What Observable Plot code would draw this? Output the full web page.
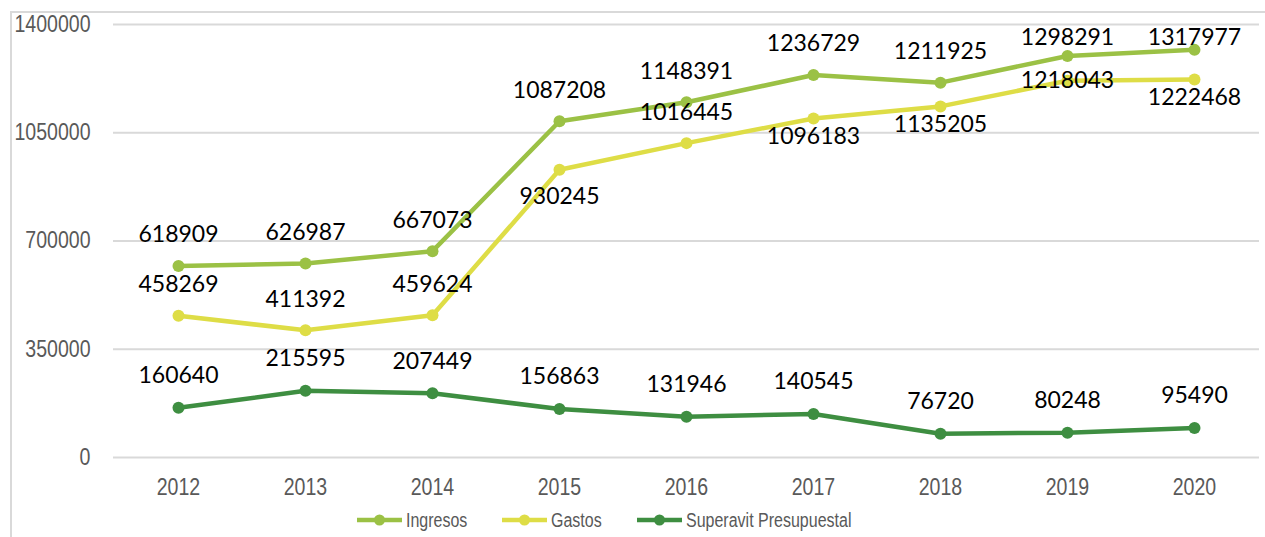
<!DOCTYPE html>
<html><head><meta charset="utf-8">
<script src="https://cdn.jsdelivr.net/npm/d3@7"></script>
<script src="https://cdn.jsdelivr.net/npm/@observablehq/plot@0.6"></script>
<style>
body{margin:0;background:#fff;width:1265px;height:537px;overflow:hidden;position:relative}
#chart{position:absolute;left:0;top:0}
#frame{position:absolute;left:10px;top:11px;right:0;bottom:0;border-left:2px solid #d9d9d9;border-top:2px solid #d9d9d9;pointer-events:none}
#legend{position:absolute;left:0;top:500px;height:37px;width:1265px;font-family:"Liberation Sans",Arial,sans-serif;font-size:20px;color:#595959}
.item{position:absolute;top:9px;height:22px;display:flex;align-items:center;white-space:nowrap}
.item svg{margin-right:4px;flex:none}
.item span{display:inline-block;transform:scaleX(0.8);transform-origin:left center}
</style></head><body>
<div id="chart"></div><div id="frame"></div><div id="legend"></div>
<script>
// ---- data ----
const years = ["2012","2013","2014","2015","2016","2017","2018","2019","2020"];
const ingresos = [618909,626987,667073,1087208,1148391,1236729,1211925,1298291,1317977];
const gastos = [458269,411392,459624,930245,1016445,1096183,1135205,1218043,1222468];
const superavit = [160640,215595,207449,156863,131946,140545,76720,80248,95490];
const seriesNames = ["Ingresos","Gastos","Superavit Presupuestal"];
const seriesColors = ["#9bc145","#dedd46","#3e8e41"];
const yTicks = [0,350000,700000,1050000,1400000];
// label placement for Gastos series (Excel-like)
const gastosPlacement = ["above","above","above","belowFar","above","below","below","center","below"];

// ---- layout ----
const W = 1265, H = 500;
const M = {left:113, right:6, top:24, bottom:43};
const yPix = d3.scaleLinear([0,1400000],[H-M.bottom, M.top]);
const dyFor = {above:-31, below:18, belowFar:27, center:0};

const seriesValues = [ingresos, gastos, superavit];
const rows = [];
seriesValues.forEach((vals,si)=>{
  vals.forEach((v,i)=>rows.push({serie:seriesNames[si], year:years[i], value:v, si, i}));
});
const labelRows = rows.map(r=>{
  let dy;
  if (r.si===1) dy = dyFor[gastosPlacement[r.i]];
  else dy = r.si===2 ? -32 : -31;
  // keep labels inside the plot top (Excel behaviour)
  const py = yPix(r.value);
  if (py + dy < 37) dy = Math.round(37 - py);
  return {...r, dy};
});
const dyGroups = d3.group(labelRows, d=>d.dy);

const marks = [
  Plot.ruleY(yTicks, {stroke:"#d9d9d9", strokeWidth:2}),
];
seriesNames.forEach((s,si)=>{
  const data = rows.filter(r=>r.si===si);
  marks.push(Plot.line(data,{x:"year", y:"value", stroke:seriesColors[si], strokeWidth:4.5, curve:"linear"}));
  marks.push(Plot.dot(data,{x:"year", y:"value", fill:seriesColors[si], r:6}));
});
for (const [dy, data] of dyGroups) {
  marks.push(Plot.text(data,{x:"year", y:"value", text:d=>String(d.value), dy,
    fill:"#000", fontSize:23, fontFamily:"Lato, 'Open Sans', sans-serif", textAnchor:"middle", lineAnchor:"middle"}));
}

const chart = Plot.plot({
  width:W, height:H,
  marginLeft:M.left, marginRight:M.right, marginTop:M.top, marginBottom:M.bottom,
  style:{background:"transparent", fontFamily:"'Liberation Sans',Arial,sans-serif", fontSize:"23px", color:"#595959"},
  x:{type:"point", domain:years, padding:0.5, tickSize:0, tickPadding:21, label:null},
  y:{domain:[0,1400000], ticks:yTicks, tickFormat:d3.format("d"), tickSize:0, tickPadding:23, label:null},
  marks
});
document.getElementById("chart").appendChild(chart);

// condense axis tick labels (narrow font look)
chart.querySelectorAll("text").forEach(t=>{
  if (t.closest('g[aria-label="text"]')) return;
  const w = t.getComputedTextLength();
  if (w > 0) {
    t.setAttribute("textLength", (w*0.85).toFixed(1));
    t.setAttribute("lengthAdjust", "spacingAndGlyphs");
  }
});

// ---- legend ----
const legend = document.getElementById("legend");
const legendLeft = [357, 502, 637];
seriesNames.forEach((s,si)=>{
  const it = document.createElement("div");
  it.className = "item";
  it.style.left = legendLeft[si] + "px";
  it.innerHTML = `<svg width="45" height="14"><line x1="0" x2="45" y1="7" y2="7" stroke="${seriesColors[si]}" stroke-width="4.5" stroke-linecap="round"/><circle cx="22.5" cy="7" r="5.5" fill="${seriesColors[si]}"/></svg><span>${s}</span>`;
  legend.appendChild(it);
});
</script>
</body></html>
